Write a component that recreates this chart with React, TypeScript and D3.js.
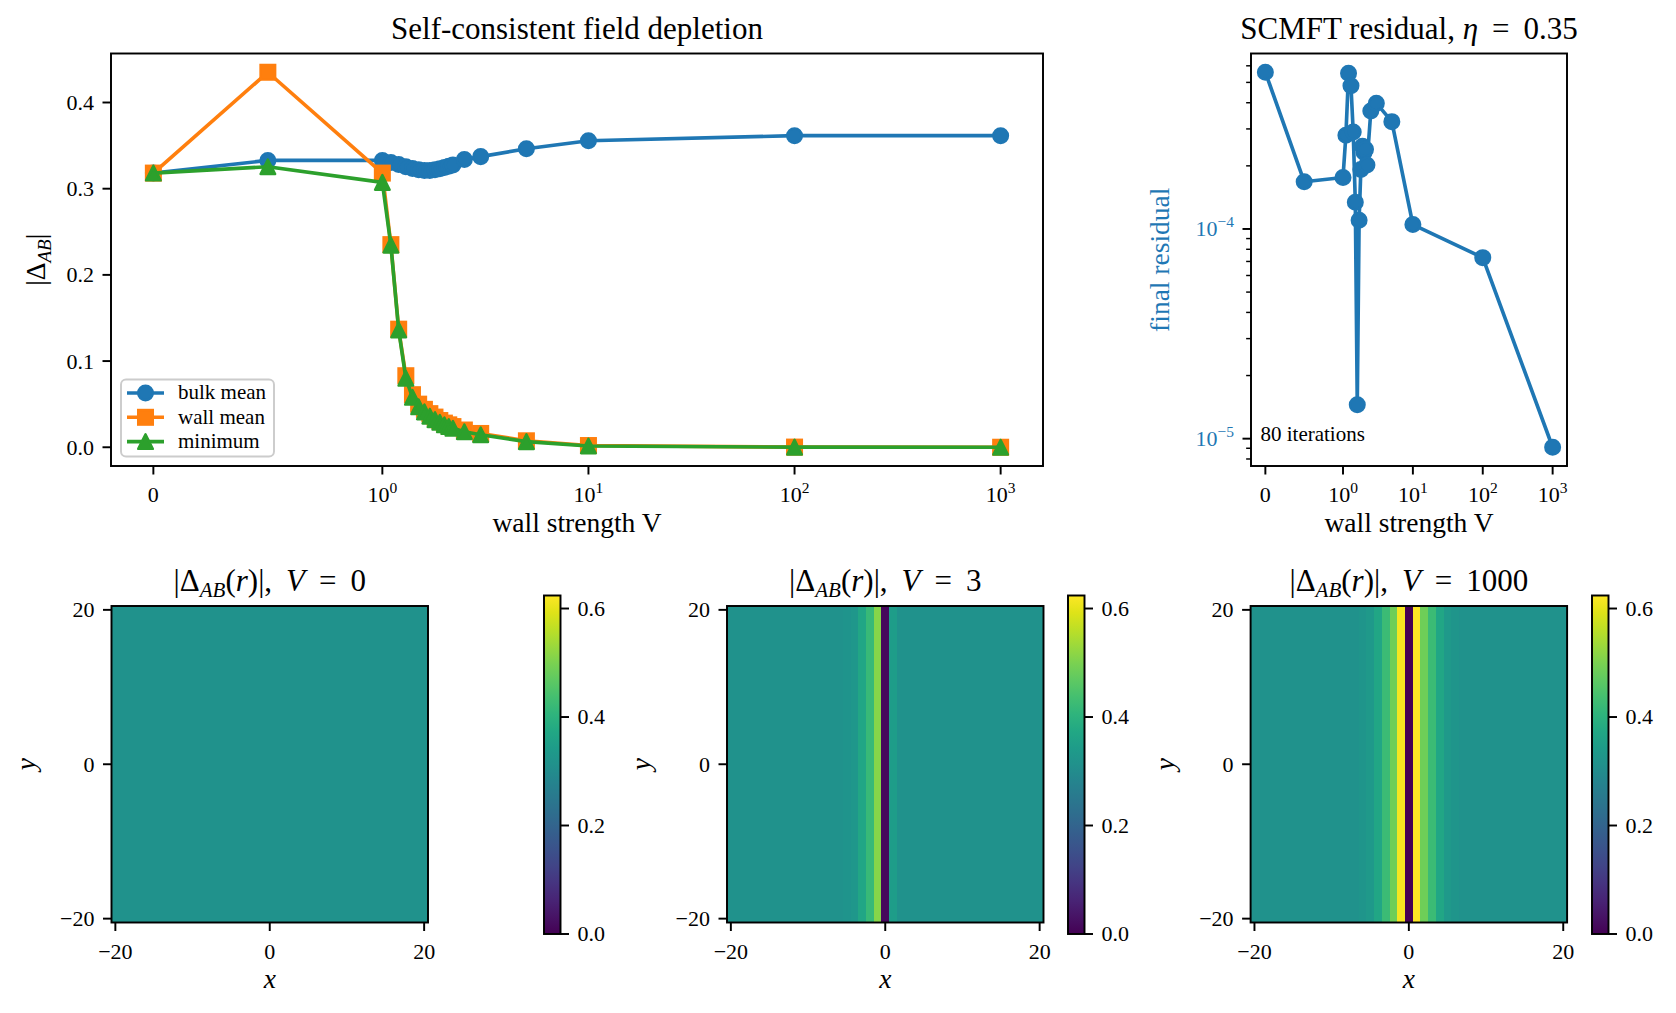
import React from "react";
import * as d3 from "d3";

// wall strengths scanned
const wallStrength = [0, 0.5, 1, 1.1, 1.2, 1.3, 1.4, 1.5, 1.6, 1.7, 1.8, 1.9, 2.0, 2.1, 2.2, 2.5, 3, 5, 10, 100, 1000];
const bulkMean = [0.3181, 0.3328, 0.3328, 0.3305, 0.328, 0.3255, 0.3235, 0.322, 0.3212, 0.3212, 0.322, 0.3232, 0.3245, 0.326, 0.3275, 0.3338, 0.3372, 0.3463, 0.3556, 0.3615, 0.3615];
const wallMean = [0.3181, 0.4351, 0.3181, 0.2351, 0.137, 0.083, 0.061, 0.05, 0.044, 0.039, 0.035, 0.031, 0.028, 0.026, 0.024, 0.02, 0.016, 0.0075, 0.002, 0.0002, 0.00002];
const minimum = [0.3181, 0.3255, 0.3073, 0.2345, 0.136, 0.08, 0.058, 0.047, 0.041, 0.036, 0.032, 0.029, 0.026, 0.024, 0.022, 0.018, 0.0145, 0.0065, 0.0015, 0.0001, 0.00001];
const finalResidual = [5.59e-4, 1.68e-4, 1.76e-4, 2.8e-4, 5.53e-4, 4.82e-4, 2.9e-4, 1.34e-4, 1.45e-5, 1.1e-4, 1.92e-4, 2.48e-4, 2.32e-4, 2.4e-4, 2.02e-4, 3.65e-4, 3.98e-4, 3.25e-4, 1.05e-4, 7.3e-5, 9.1e-6];

// |Delta_AB| across x = -20..20 (uniform along y)
const profileV0 = [
  0.3181, 0.3181, 0.3181, 0.3181, 0.3181, 0.3181, 0.3181, 0.3181, 0.3181, 0.3181,
  0.3181, 0.3181, 0.3181, 0.3181, 0.3181, 0.3181, 0.3181, 0.3181, 0.3181, 0.3181,
  0.3181,
  0.3181, 0.3181, 0.3181, 0.3181, 0.3181, 0.3181, 0.3181, 0.3181, 0.3181, 0.3181,
  0.3181, 0.3181, 0.3181, 0.3181, 0.3181, 0.3181, 0.3181, 0.3181, 0.3181, 0.3181,
];
const profileV3 = [
  0.3181, 0.3181, 0.3181, 0.3181, 0.3181, 0.3181, 0.3181, 0.3181, 0.3181, 0.3181,
  0.3181, 0.3181, 0.3181, 0.3181, 0.3181, 0.322, 0.33, 0.37, 0.42, 0.51,
  0.0145,
  0.345, 0.3181, 0.3181, 0.3181, 0.3181, 0.3181, 0.3181, 0.3181, 0.3181, 0.3181,
  0.3181, 0.3181, 0.3181, 0.3181, 0.3181, 0.3181, 0.3181, 0.3181, 0.3181, 0.3181,
];
const profileV1000 = [
  0.3181, 0.3181, 0.3181, 0.3181, 0.3181, 0.3181, 0.3181, 0.3181, 0.3181, 0.3181,
  0.3181, 0.3181, 0.3181, 0.3181, 0.325, 0.335, 0.37, 0.425, 0.487, 0.615,
  0.00002,
  0.624, 0.487, 0.425, 0.37, 0.335, 0.325, 0.3181, 0.3181, 0.3181, 0.3181,
  0.3181, 0.3181, 0.3181, 0.3181, 0.3181, 0.3181, 0.3181, 0.3181, 0.3181, 0.3181,
];
const gridX = d3.range(-20, 21);

const symlogTicks = [0, 1, 10, 100, 1000];
const symlogTickExp = ["", "0", "1", "2", "3"];
const depletionTicks = [0, 0.1, 0.2, 0.3, 0.4];
const heatTicks = [-20, 0, 20];
const cbarTicks = [0, 0.2, 0.4, 0.6];

const FONT = '"Liberation Serif", "Times New Roman", serif';
const PT = 2.43;
const TICK = 3.5 * PT;
const PAD = 3.5 * PT;
const SPINE = 0.8 * PT;
const LW = 1.5 * PT;
const MS = 6 * PT;
const TICKFS = 22;
const LABELFS = 27.5;
const TITLEFS = 31;
const SMALLFS = 21;
const BLUE = "#1f77b4";
const EQ = "\u2009=\u2009";

const LINSCALE = 1 / (1 - 1 / 10);
const symlog = (v: number) => {
  const a = Math.abs(v);
  return a <= 1 ? v * LINSCALE : Math.sign(v) * (LINSCALE + Math.log10(a));
};
const padded = (vals: number[]) => {
  const [a, b] = d3.extent(vals) as [number, number];
  const p = (b - a) * 0.05;
  return [a - p, b + p];
};
const fmtMinus = (v: number) => (v < 0 ? "\u2212" + Math.abs(v) : String(v));

function Marker({ kind, x, y, color }: { kind: string; x: number; y: number; color: string }) {
  const s = MS / 2;
  if (kind === "square")
    return <rect x={x - s} y={y - s} width={MS} height={MS} fill={color} stroke={color} strokeWidth={PT} />;
  if (kind === "triangle")
    return <path d={`M${x},${y - s}L${x - s},${y + s}L${x + s},${y + s}Z`} fill={color} stroke={color} strokeWidth={PT} strokeLinejoin="round" />;
  return <circle cx={x} cy={y} r={s} fill={color} stroke={color} strokeWidth={PT} />;
}

function SymlogXAxis({ x, bottom }: { x: (v: number) => number; bottom: number }) {
  return (
    <g>
      {symlogTicks.map((t, i) => {
        const px = x(symlog(t));
        return (
          <g key={t}>
            <line x1={px} x2={px} y1={bottom} y2={bottom + TICK} stroke="#000" strokeWidth={SPINE} />
            <text x={px} y={bottom + 36} textAnchor="middle" fontSize={TICKFS}>
              {i === 0 ? "0" : (<><tspan>10</tspan><tspan dy={-9.5} fontSize={15.5}>{symlogTickExp[i]}</tspan></>)}
            </text>
          </g>
        );
      })}
    </g>
  );
}

function DepletionPanel() {
  const left = 111, top = 53.5, w = 932, h = 412.5;
  const x = d3.scaleLinear().domain(padded(wallStrength.map(symlog))).range([left, left + w]);
  const y = d3.scaleLinear().domain(padded([...bulkMean, ...wallMean, ...minimum])).range([top + h, top]);
  const series = [
    { name: "bulk mean", values: bulkMean, color: BLUE, marker: "circle" },
    { name: "wall mean", values: wallMean, color: "#ff7f0e", marker: "square" },
    { name: "minimum", values: minimum, color: "#2ca02c", marker: "triangle" },
  ];
  const line = d3.line<number>().x((_, i) => x(symlog(wallStrength[i]))).y((d) => y(d));
  const lg = { x: 121, y: 379.5, w: 153, h: 77 };
  return (
    <g>
      {series.map((s) => (
        <g key={s.name}>
          <path d={line(s.values) || ""} fill="none" stroke={s.color} strokeWidth={LW} strokeLinejoin="round" />
          {s.values.map((v, i) => (
            <Marker key={i} kind={s.marker} x={x(symlog(wallStrength[i]))} y={y(v)} color={s.color} />
          ))}
        </g>
      ))}
      <rect x={left} y={top} width={w} height={h} fill="none" stroke="#000" strokeWidth={SPINE} />
      {depletionTicks.map((t) => (
        <g key={t}>
          <line x1={left - TICK} x2={left} y1={y(t)} y2={y(t)} stroke="#000" strokeWidth={SPINE} />
          <text x={left - TICK - PAD} y={y(t)} dy="0.34em" textAnchor="end" fontSize={TICKFS}>{t.toFixed(1)}</text>
        </g>
      ))}
      <SymlogXAxis x={x} bottom={top + h} />
      <text x={left + w / 2} y={532} textAnchor="middle" fontSize={LABELFS}>wall strength V</text>
      <text transform={`translate(45,${top + h / 2}) rotate(-90)`} textAnchor="middle" fontSize={LABELFS}>
        |Δ<tspan fontStyle="italic" fontSize={19} dy={6}>AB</tspan><tspan dy={-6}>|</tspan>
      </text>
      <text x={left + w / 2} y={top - 14.6} textAnchor="middle" fontSize={TITLEFS}>Self-consistent field depletion</text>
      <rect x={lg.x} y={lg.y} width={lg.w} height={lg.h} rx={5} fill="#fff" fillOpacity={0.8} stroke="#cccccc" strokeWidth={SPINE} />
      {series.map((s, i) => {
        const cy = 393 + i * 24.3;
        return (
          <g key={s.name}>
            <line x1={127} x2={164} y1={cy} y2={cy} stroke={s.color} strokeWidth={LW} />
            <Marker kind={s.marker} x={145.5} y={cy} color={s.color} />
            <text x={178} y={cy} dy="0.3em" fontSize={SMALLFS}>{s.name}</text>
          </g>
        );
      })}
    </g>
  );
}

function ResidualPanel() {
  const left = 1251, top = 53.5, w = 316, h = 412.5;
  const x = d3.scaleLinear().domain(padded(wallStrength.map(symlog))).range([left, left + w]);
  const [l0, l1] = padded(finalResidual.map(Math.log10));
  const y = d3.scaleLog().domain([10 ** l0, 10 ** l1]).range([top + h, top]);
  const line = d3.line<number>().x((_, i) => x(symlog(wallStrength[i]))).y((d) => y(d));
  const minors: number[] = [];
  for (let d = Math.floor(l0); d <= Math.ceil(l1); d++)
    for (let k = 2; k <= 9; k++) {
      const v = k * 10 ** d;
      if (Math.log10(v) >= l0 && Math.log10(v) <= l1) minors.push(v);
    }
  const majors = [-6, -5, -4, -3].filter((e) => e >= l0 && e <= l1);
  return (
    <g>
      <path d={line(finalResidual) || ""} fill="none" stroke={BLUE} strokeWidth={LW} strokeLinejoin="round" />
      {finalResidual.map((v, i) => (
        <Marker key={i} kind="circle" x={x(symlog(wallStrength[i]))} y={y(v)} color={BLUE} />
      ))}
      <rect x={left} y={top} width={w} height={h} fill="none" stroke="#000" strokeWidth={SPINE} />
      {minors.map((v) => (
        <line key={v} x1={left - 2 * PT} x2={left} y1={y(v)} y2={y(v)} stroke="#000" strokeWidth={0.6 * PT} />
      ))}
      {majors.map((e) => (
        <g key={e}>
          <line x1={left - TICK} x2={left} y1={y(10 ** e)} y2={y(10 ** e)} stroke="#000" strokeWidth={SPINE} />
          <text x={left - TICK - PAD} y={y(10 ** e)} dy="0.34em" textAnchor="end" fontSize={TICKFS} fill={BLUE}>
            <tspan>10</tspan><tspan dy={-9.5} fontSize={15.5}>{"\u2212" + Math.abs(e)}</tspan>
          </text>
        </g>
      ))}
      <SymlogXAxis x={x} bottom={top + h} />
      <text x={left + w / 2} y={532} textAnchor="middle" fontSize={LABELFS}>wall strength V</text>
      <text transform={`translate(1169,${top + h / 2}) rotate(-90)`} textAnchor="middle" fontSize={LABELFS} fill={BLUE}>final residual</text>
      <text x={left + 0.03 * w} y={441} fontSize={SMALLFS}>80 iterations</text>
      <text x={left + w / 2} y={top - 14.6} textAnchor="middle" fontSize={TITLEFS}>
        SCMFT residual, <tspan fontStyle="italic">η</tspan>{" " + EQ + " "}0.35
      </text>
    </g>
  );
}

const vmax = d3.max([...profileV0, ...profileV3, ...profileV1000]) as number;
const color = (v: number) => d3.interpolateViridis(v / vmax);

function HeatPanel({ profile, v, left, cbLeft }: { profile: number[]; v: string; left: number; cbLeft: number }) {
  const top = 606, S = 316.5;
  const x = d3.scaleLinear().domain([-20.5, 20.5]).range([left, left + S]);
  const y = d3.scaleLinear().domain([-20.5, 20.5]).range([top + S, top]);
  const cbTop = 595.5, cbBot = 934, cbW = 16.5;
  const c = d3.scaleLinear().domain([0, vmax]).range([cbBot, cbTop]);
  return (
    <g>
      <g shapeRendering="crispEdges">
        {gridX.map((gx, i) => (
          <rect key={gx} x={x(gx - 0.5)} y={y(20.5)} width={x(gx + 0.5) - x(gx - 0.5) + (i < gridX.length - 1 ? 1 : 0)} height={y(-20.5) - y(20.5)} fill={color(profile[i])} />
        ))}
      </g>
      <rect x={left} y={top} width={S} height={S} fill="none" stroke="#000" strokeWidth={SPINE} />
      {heatTicks.map((t) => (
        <g key={t}>
          <line x1={x(t)} x2={x(t)} y1={top + S} y2={top + S + TICK} stroke="#000" strokeWidth={SPINE} />
          <text x={x(t)} y={top + S + 36} textAnchor="middle" fontSize={TICKFS}>{fmtMinus(t)}</text>
          <line x1={left - TICK} x2={left} y1={y(t)} y2={y(t)} stroke="#000" strokeWidth={SPINE} />
          <text x={left - TICK - PAD} y={y(t)} dy="0.34em" textAnchor="end" fontSize={TICKFS}>{fmtMinus(t)}</text>
        </g>
      ))}
      <text x={left + S / 2} y={988} textAnchor="middle" fontSize={LABELFS} fontStyle="italic">x</text>
      <text transform={`translate(${left - 77},${top + S / 2}) rotate(-90)`} textAnchor="middle" fontSize={LABELFS} fontStyle="italic">y</text>
      <text x={left + S / 2} y={top - 14.6} textAnchor="middle" fontSize={TITLEFS}>
        |Δ<tspan fontStyle="italic" fontSize={21} dy={6}>AB</tspan><tspan dy={-6}>(</tspan><tspan fontStyle="italic">r</tspan>{")|,\u2009 "}
        <tspan fontStyle="italic">V</tspan>{" " + EQ + " " + v}
      </text>
      <rect x={cbLeft} y={cbTop} width={cbW} height={cbBot - cbTop} fill="url(#viridis)" />
      <rect x={cbLeft} y={cbTop} width={cbW} height={cbBot - cbTop} fill="none" stroke="#000" strokeWidth={SPINE} />
      {cbarTicks.map((t) => (
        <g key={t}>
          <line x1={cbLeft + cbW} x2={cbLeft + cbW + TICK} y1={c(t)} y2={c(t)} stroke="#000" strokeWidth={SPINE} />
          <text x={cbLeft + cbW + TICK + PAD} y={c(t)} dy="0.34em" fontSize={TICKFS}>{t.toFixed(1)}</text>
        </g>
      ))}
    </g>
  );
}

export default function App() {
  const stops = d3.range(0, 1.0001, 0.05);
  return (
    <div style={{ position: "absolute", left: 0, top: 0, width: 1676, height: 1013, background: "#fff" }}>
      <svg width={1676} height={1013} fontFamily={FONT} style={{ display: "block" }}>
        <defs>
          <linearGradient id="viridis" x1="0" y1="1" x2="0" y2="0">
            {stops.map((s) => (
              <stop key={s} offset={s} stopColor={d3.interpolateViridis(s)} />
            ))}
          </linearGradient>
        </defs>
        <rect width={1676} height={1013} fill="#fff" />
        <DepletionPanel />
        <ResidualPanel />
        <HeatPanel profile={profileV0} v="0" left={111.5} cbLeft={544} />
        <HeatPanel profile={profileV3} v="3" left={727} cbLeft={1068} />
        <HeatPanel profile={profileV1000} v="1000" left={1250.6} cbLeft={1592} />
      </svg>
    </div>
  );
}
